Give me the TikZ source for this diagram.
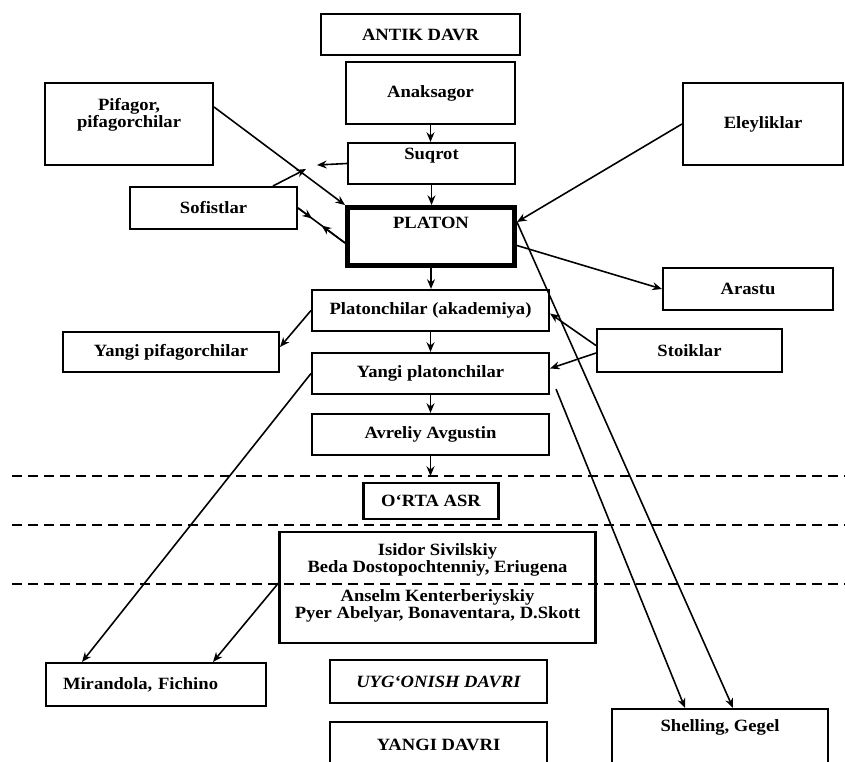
\documentclass[tikz,border=0pt]{standalone}
\usepackage{fontspec}
\setmainfont{Liberation Serif}[FakeStretch=1.08]
\usetikzlibrary{calc,arrows.meta}

\newcommand{\liftup}[2]{\raisebox{#1}[\height][\depth]{#2}}
\newcommand{\tightlines}{\lineskiplimit=-20pt\relax}

\begin{document}
\begin{tikzpicture}[>={Stealth[length=5.5pt,width=4.5pt]}, x=0.02cm, y=-0.02cm,
        every node/.style={font={\fontsize{9.8}{9.6}\selectfont\bfseries\tightlines}, align=center},
        box/.style={draw, line width=1.2pt, inner sep=2pt},
        link/.style={line width=0.9pt},
        period/.style={line width=1.1pt, dash pattern=on 0.2cm off 0.12cm}]
        % --- 1. Frame ---
        \clip (0,0) rectangle (845,761);

        % --- 2. Period borders ---
        \foreach \y in {476,525,584}
            \draw[period] (12,\y) -- (845,\y);
        \coordinate (cut) at (431,476);

        % --- 3. Main line ---
        \node[box, minimum width=3.98cm, minimum height=0.82cm] (antik) at (420.5,34.5) {ANTIK DAVR};
        \node[box, minimum width=3.38cm, minimum height=1.24cm] (anaks) at (430.5,93) {Anaksagor};
        \node[box, minimum width=3.34cm, minimum height=0.82cm] (suqrot) at (431.5,163.5) {\liftup{0.16cm}{Suqrot}};
        \node[box, line width=2.8pt, minimum width=3.34cm, minimum height=1.16cm] (platon) at (431,236.5) {\liftup{0.28cm}{PLATON}};
        \node[box, minimum width=4.74cm, minimum height=0.82cm] (platonchilar) at (430.5,310.5) {Platonchilar (akademiya)};
        \node[box, minimum width=4.74cm, minimum height=0.82cm] (yangiplat) at (430.5,373.5) {Yangi platonchilar};
        \node[box, minimum width=4.74cm, minimum height=0.82cm] (avreliy) at (430.5,434.5) {Avreliy Avgustin};
        \node[box, minimum width=2.7cm, minimum height=0.72cm] (ortaasr) at (431,501) {O‘RTA ASR};
        \node[box, minimum width=6.32cm, minimum height=2.22cm,
              label={[yshift=0.1cm]center:{Isidor Sivilskiy\\Beda Dostopochtenniy, Eriugena\\[7pt]Anselm Kenterberiyskiy\\Pyer Abelyar, Bonaventara, D.Skott}}] (isidor) at (437.5,587.5) {};
        \node[box, minimum width=4.34cm, minimum height=0.86cm] (uygonish) at (438.5,681.5) {\itshape UYG‘ONISH DAVRI};
        \node[box, minimum width=4.34cm, minimum height=0.92cm] (yangidavri) at (438.5,745) {YANGI DAVRI};

        % --- 4. Side schools ---
        \node[box, minimum width=3.36cm, minimum height=1.64cm,
              label={[yshift=0.18cm]center:{Pifagor,\\pifagorchilar}}] (pifagor) at (129,124) {};
        \node[box, minimum width=3.34cm, minimum height=0.84cm] (sofistlar) at (213.5,208) {Sofistlar};
        \node[box, minimum width=3.2cm, minimum height=1.64cm] (eleyliklar) at (763,124) {Eleyliklar};
        \node[box, minimum width=3.4cm, minimum height=0.84cm] (arastu) at (748,289) {Arastu};
        \node[box, minimum width=4.32cm, minimum height=0.8cm] (yangipif) at (171,352) {Yangi pifagorchilar};
        \node[box, minimum width=3.7cm, minimum height=0.86cm] (stoiklar) at (689.5,350.5) {Stoiklar};
        \node[box, minimum width=4.4cm, minimum height=0.86cm, inner xsep=0.34cm, text width=3.72cm, align=left] (mirandola) at (156,684.5) {Mirandola, Fichino};
        \node[box, minimum width=4.32cm, minimum height=1.2cm] (shelling) at (720,739) {\liftup{0.24cm}{Shelling, Gegel}};

        % --- 5. Main line arrows ---
        \foreach \a/\b in {anaks/suqrot, suqrot/platon, platon/platonchilar, platonchilar/yangiplat, yangiplat/avreliy}
            \draw[link, ->] (\a.south) -- (\a.south |- \b.north);
        \draw[link, ->] (avreliy.south) -- (avreliy.south |- cut);

        % --- 6. Influences ---
        \coordinate (sqtip) at (317,165);
        \coordinate (sftip) at (306,169);
        \draw[link, ->] (suqrot.west) -- (sqtip);
        \draw[link, ->] ([xshift=-0.5cm]sofistlar.north east) -- (sftip);
        \draw[link, ->] ([yshift=0.34cm]pifagor.east) -- (platon.north west);

        \coordinate (pw) at ([yshift=-0.13cm]platon.west);
        \draw[link] (sofistlar.east) -- (pw);
        \draw[link, ->] (sofistlar.east) -- ($(sofistlar.east)!0.3!(pw)$);
        \draw[link, ->] (pw) -- ($(sofistlar.east)!0.5!(pw)$);

        \coordinate (pe) at ([yshift=0.29cm]platon.east);
        \draw[link, ->] (eleyliklar.west) -- (pe);
        \draw[link, ->] ([yshift=-0.18cm]platon.east) -- (arastu.west);
        \draw[link, ->] (pe) -- ([xshift=0.26cm]shelling.north);
        \draw[link, ->] ([shift={(0.12cm,0.12cm)}]yangiplat.south east) -- ([xshift=-0.7cm]shelling.north);

        \draw[link, ->] (platonchilar.west) -- ([yshift=0.1cm]yangipif.east);
        \draw[link, ->] ([yshift=0.1cm]stoiklar.west) -- ([yshift=-0.06cm]platonchilar.east);
        \draw[link, ->] ([yshift=-0.05cm]stoiklar.west) -- ([yshift=0.1cm]yangiplat.east);
        \draw[link, ->] (yangiplat.west) -- ([xshift=-1.48cm]mirandola.north);
        \draw[link, ->] ([yshift=0.09cm]isidor.west) -- ([xshift=1.14cm]mirandola.north);
\end{tikzpicture}
\end{document}
